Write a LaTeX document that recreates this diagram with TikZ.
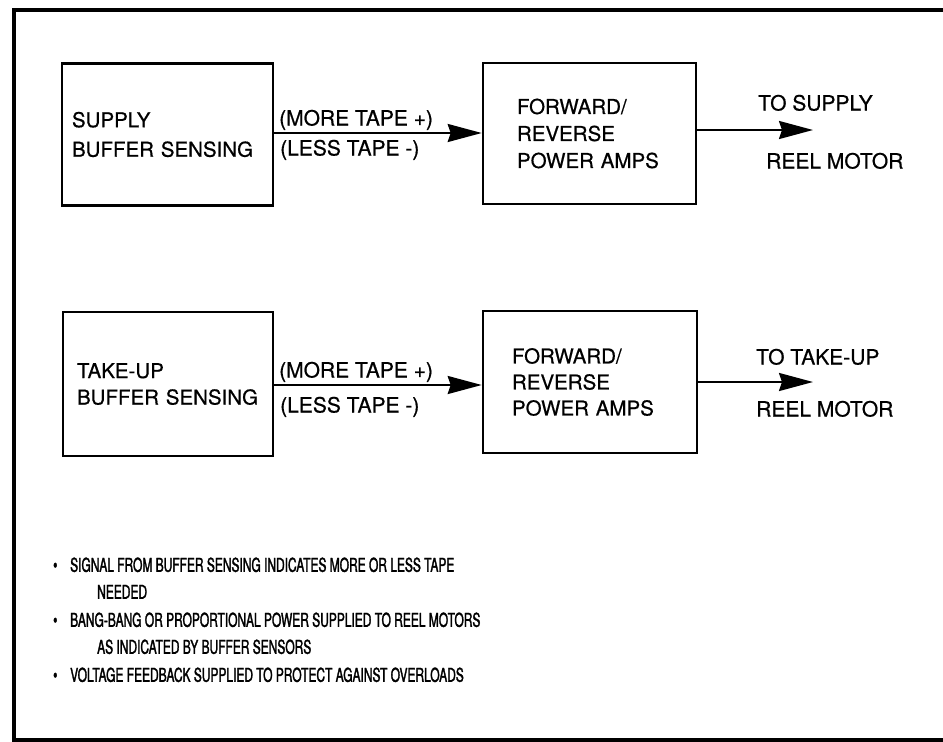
\documentclass[tikz,border=0pt]{standalone}
\usepackage{fontspec}
\setmainfont[FakeBold=0.6]{TeX Gyre Heros}
\newfontfamily\narrowfont[FakeStretch=0.63,FakeBold=1.6]{TeX Gyre Heros}
\usetikzlibrary{arrows.meta}
\begin{document}
\begin{tikzpicture}[x=1pt,y=-1pt,
  blk/.style={draw,line width=2.6pt,align=left,font=\fontsize{20.5}{24.5}\selectfont},
  lbl/.style={anchor=west,inner sep=0pt,text height=15pt,text depth=0pt,font=\fontsize{21}{25}\selectfont},
  bul/.style={anchor=west,inner sep=0pt,text height=13.5pt,text depth=0pt,font=\narrowfont\fontsize{19}{23}\selectfont},
  conn/.style={line width=2.2pt,-{Stealth[length=34pt,width=18pt,inset=3pt]}}]
\useasboundingbox (0,0) rectangle (943,742);
\fill[white] (0,0) rectangle (943,742);
% outer frame
\draw[line width=4pt] (950,10) -- (14,10) -- (14,740) -- (950,740);
% row 1
\node[blk,minimum width=211,minimum height=142,text width=191,inner xsep=10] (b1) at (167.5,134.5)
  {SUPPLY\\[5pt]BUFFER SENSING};
\node[blk,minimum width=213,minimum height=141,text width=145,inner xsep=34] (b2) at (589.5,133.5)
  {FORWARD/\\[2.5pt]REVERSE\\[2.5pt]POWER AMPS};
\draw[conn] (b1.east |- 0,133) coordinate (a1s) -- (b2.west |- a1s);
\node[lbl] (m1) at (279,118) {(MORE TAPE +)};
\node[lbl] (l1) at (280,148) {(LESS TAPE -)};
\coordinate (o1) at (813,130);
\draw[conn] (b2.east |- o1) -- (o1);
\node[lbl] (t1) at (758,103) {TO SUPPLY};
\node[lbl] (r1) at (766,161) {REEL MOTOR};
% row 2
\node[blk,minimum width=210,minimum height=144,text width=182,inner xsep=14] (b3) at (168,384)
  {TAKE-UP\\[2pt]BUFFER SENSING};
\node[blk,minimum width=214,minimum height=142,text width=156,inner xsep=29] (b4) at (590,382)
  {FORWARD/\\[1.5pt]REVERSE\\[1.5pt]POWER AMPS};
\draw[conn] (b3.east |- 0,385) coordinate (a2s) -- (b4.west |- a2s);
\node[lbl] (m2) at (279,370) {(MORE TAPE +)};
\node[lbl] (l2) at (280,405) {(LESS TAPE -)};
\coordinate (o2) at (813,382);
\draw[conn] (b4.east |- o2) -- (o2);
\node[lbl] (t2) at (756,357) {TO TAKE-UP};
\node[lbl] (r2) at (756,409) {REEL MOTOR};
% notes
\node[bul] (d1) at (53,565) {\textbullet};
\node[bul] (n1) at (70,565) {SIGNAL FROM BUFFER SENSING INDICATES MORE OR LESS TAPE};
\node[bul] (n1b) at (97,592) {NEEDED};
\node[bul] (d2) at (53,620) {\textbullet};
\node[bul] (n2) at (70,620) {BANG-BANG OR PROPORTIONAL POWER SUPPLIED TO REEL MOTORS};
\node[bul] (n2b) at (97,647) {AS INDICATED BY BUFFER SENSORS};
\node[bul] (d3) at (53,675) {\textbullet};
\node[bul] (n3) at (70,675) {VOLTAGE FEEDBACK SUPPLIED TO PROTECT AGAINST OVERLOADS};
\end{tikzpicture}
\end{document}
